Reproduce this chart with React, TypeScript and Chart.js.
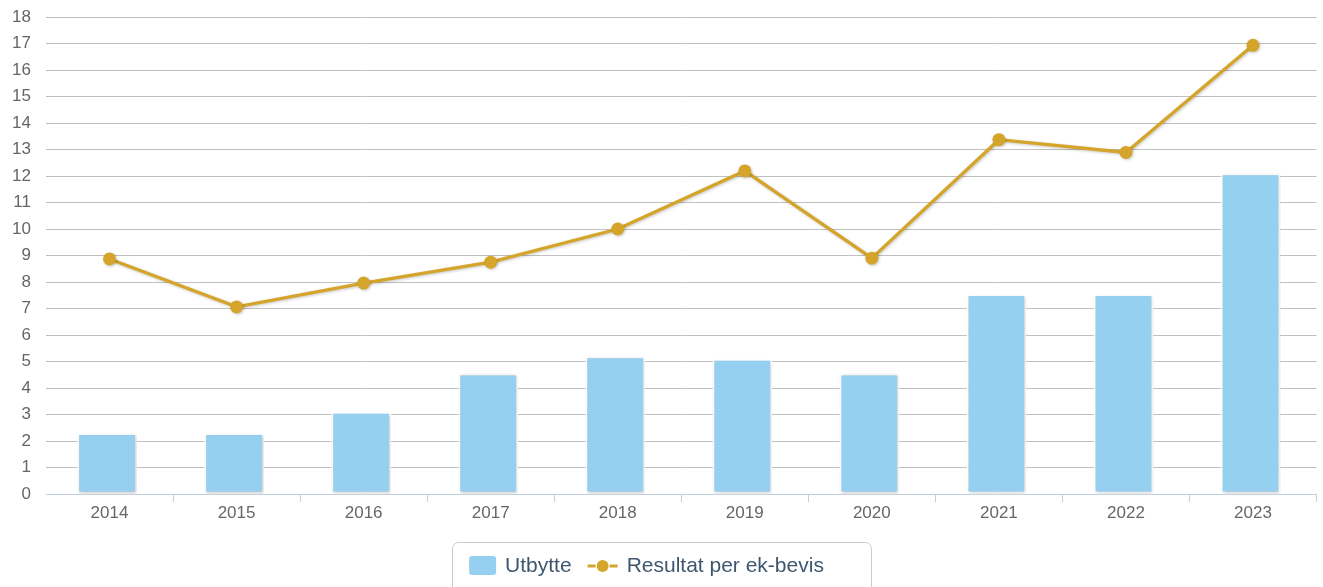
import React, { useEffect, useRef } from "react";
import { Chart, registerables } from "chart.js";

Chart.register(...registerables);

const categories = ["2014", "2015", "2016", "2017", "2018", "2019", "2020", "2021", "2022", "2023"];
const utbytte = [2.3, 2.3, 3.1, 4.55, 5.2, 5.1, 4.55, 7.55, 7.55, 12.1];
const resultat = [8.87, 7.06, 7.96, 8.75, 10.0, 12.19, 8.9, 13.37, 12.89, 16.93];
const yTicks = [0, 1, 2, 3, 4, 5, 6, 7, 8, 9, 10, 11, 12, 13, 14, 15, 16, 17, 18];
const legendLabels = ["Utbytte", "Resultat per ek-bevis"];

const BAR_COLOR = "#95d0f1";
const LINE_COLOR = "#d4a52a";
const LEGEND_COLOR = "#3e576f";
const FONT = "'Liberation Sans', Arial, sans-serif";

const shadowPlugin = {
  id: "shadowPlugin",
  beforeDatasetDraw(chart: any, args: any) {
    const ctx = chart.ctx;
    ctx.save();
    ctx.shadowColor = "rgba(0,0,0,0.22)";
    ctx.shadowBlur = 3;
    ctx.shadowOffsetX = 1;
    ctx.shadowOffsetY = 1;
    if (args.meta && args.meta.type === "bar") {
      ctx.translate(-2.5, 0);
    }
  },
  afterDatasetDraw(chart: any) {
    chart.ctx.restore();
  },
};

function roundRect(ctx: CanvasRenderingContext2D, x: number, y: number, w: number, h: number, r: number) {
  ctx.beginPath();
  ctx.moveTo(x + r, y);
  ctx.lineTo(x + w - r, y);
  ctx.arcTo(x + w, y, x + w, y + r, r);
  ctx.lineTo(x + w, y + h - r);
  ctx.arcTo(x + w, y + h, x + w - r, y + h, r);
  ctx.lineTo(x + r, y + h);
  ctx.arcTo(x, y + h, x, y + h - r, r);
  ctx.lineTo(x, y + r);
  ctx.arcTo(x, y, x + r, y, r);
  ctx.closePath();
}

const customLegendPlugin = {
  id: "customLegendPlugin",
  afterDraw(chart: any) {
    const ctx: CanvasRenderingContext2D = chart.ctx;
    const cx = chart.width / 2;
    const cy = 566;
    ctx.save();
    ctx.font = `21px ${FONT}`;
    const w0 = ctx.measureText(legendLabels[0]).width;
    const w1 = ctx.measureText(legendLabels[1]).width;
    const symW0 = 27;
    const symW1 = 30;
    const gap = 9;
    const itemGap = 16;
    const total = symW0 + gap + w0 + itemGap + symW1 + gap + w1;
    let x = cx - 15 - total / 2;

    // box
    const boxX = Math.round(x - 17) + 0.5;
    const boxW = Math.round(total + 34 + 30);
    ctx.strokeStyle = "#cccccc";
    ctx.lineWidth = 1;
    roundRect(ctx, boxX, 542.5, boxW, 60, 6);
    ctx.stroke();

    // bar symbol
    ctx.fillStyle = BAR_COLOR;
    roundRect(ctx, x, cy - 10, symW0, 19, 3);
    ctx.fill();
    x += symW0 + gap;
    ctx.fillStyle = LEGEND_COLOR;
    ctx.textBaseline = "middle";
    ctx.textAlign = "left";
    ctx.fillText(legendLabels[0], x, cy);
    x += w0 + itemGap;

    // line symbol
    ctx.strokeStyle = LINE_COLOR;
    ctx.lineWidth = 3;
    ctx.beginPath();
    ctx.moveTo(x, cy);
    ctx.lineTo(x + 8, cy);
    ctx.moveTo(x + symW1 - 8, cy);
    ctx.lineTo(x + symW1, cy);
    ctx.stroke();
    ctx.fillStyle = LINE_COLOR;
    ctx.beginPath();
    ctx.arc(x + symW1 / 2, cy, 6, 0, Math.PI * 2);
    ctx.fill();
    x += symW1 + gap;
    ctx.fillStyle = LEGEND_COLOR;
    ctx.fillText(legendLabels[1], x, cy);
    ctx.restore();
  },
};

export default function App() {
  const ref = useRef<HTMLCanvasElement | null>(null);

  useEffect(() => {
    document.body.style.margin = "0";
    const chart = new Chart(ref.current!, {
      type: "bar",
      data: {
        labels: categories,
        datasets: [
          {
            type: "line",
            label: legendLabels[1],
            data: resultat,
            borderColor: LINE_COLOR,
            backgroundColor: LINE_COLOR,
            borderWidth: 3.3,
            pointRadius: 6.5,
            pointHoverRadius: 6.5,
            pointBorderWidth: 0,
            pointBackgroundColor: LINE_COLOR,
            tension: 0,
            order: 0,
          } as any,
          {
            type: "bar",
            label: legendLabels[0],
            data: utbytte,
            backgroundColor: BAR_COLOR,
            borderColor: "#ffffff",
            borderWidth: 2,
            borderSkipped: false,
            categoryPercentage: 1,
            barPercentage: 0.47,
            order: 1,
          } as any,
        ],
      },
      options: {
        responsive: false,
        animation: false,
        layout: { padding: { top: 17, right: 5, left: 0, bottom: 44 } },
        plugins: {
          tooltip: { enabled: false },
          legend: { display: false },
        },
        scales: {
          x: {
            offset: true,
            grid: {
              offset: true,
              drawOnChartArea: false,
              drawTicks: true,
              tickLength: 8,
              color: (c: any) => (c.index === 0 ? "rgba(0,0,0,0)" : "#c0d0e0"),
            },
            border: { display: true, color: "#c0d0e0", width: 1 },
            ticks: {
              color: "#666666",
              font: { family: FONT, size: 17 },
              padding: 1,
              maxRotation: 0,
            },
            afterFit: (s: any) => {
              s.height = 49;
            },
          } as any,
          y: {
            min: 0,
            max: 18,
            afterBuildTicks: (s: any) => {
              s.ticks = yTicks.map((v) => ({ value: v }));
            },
            grid: {
              drawTicks: true,
              tickLength: 15,
              tickColor: "rgba(0,0,0,0)",
              color: (c: any) => (c.tick && c.tick.value === 0 ? "rgba(0,0,0,0)" : "#c0c0c0"),
              lineWidth: 1,
            },
            border: { display: false },
            ticks: {
              color: "#666666",
              font: { family: FONT, size: 17 },
              padding: 0,
            },
            afterFit: (s: any) => {
              s.width = 46;
            },
          } as any,
        },
      },
      plugins: [shadowPlugin, customLegendPlugin],
    });
    return () => chart.destroy();
  }, []);

  return (
    <div style={{ width: 1323, height: 587, overflow: "hidden", position: "relative" }}>
      <canvas ref={ref} width={1323} height={587} style={{ display: "block" }} />
    </div>
  );
}
